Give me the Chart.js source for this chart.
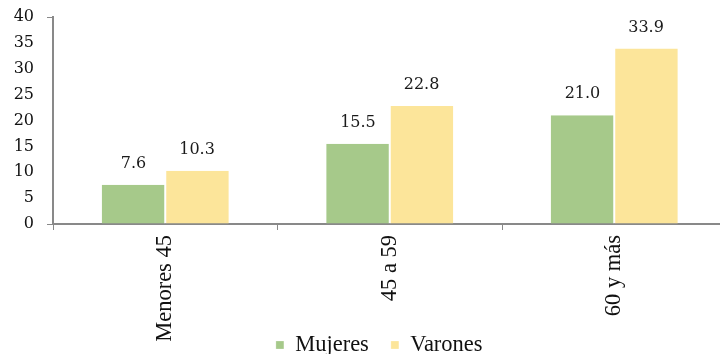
<!DOCTYPE html>
<html>
<head>
<meta charset="utf-8">
<script src="https://cdn.jsdelivr.net/npm/chart.js@4.4.1/dist/chart.umd.min.js"></script>
<style>
  html, body { margin: 0; padding: 0; background: #fff; overflow: hidden; }
  #wrap { width: 752px; height: 430px; position: relative; }
</style>
</head>
<body>
<div id="wrap"><canvas id="chart"></canvas></div>
<script>
const categories = ['Menores 45', '45 a 59', '60 y más'];
const mujeres = [7.6, 15.5, 21.0];
const varones = [10.3, 22.8, 33.9];
const yTicks = [0, 5, 10, 15, 20, 25, 30, 35, 40];

const axisGray = '#898989';
const legendPad = 22;
const legendFont = 22.5;
const plotBottom = 224;

// value labels above each bar
const barValues = {
  id: 'barValues',
  afterDatasetsDraw(chart) {
    const ctx = chart.ctx;
    ctx.save();
    ctx.font = '16px "DejaVu Serif"';
    ctx.fillStyle = '#1a1a1a';
    ctx.textAlign = 'center';
    ctx.textBaseline = 'bottom';
    chart.data.datasets.forEach((ds, i) => {
      chart.getDatasetMeta(i).data.forEach((bar, j) => {
        ctx.fillText(ds.data[j].toFixed(1), bar.x, bar.y - 13);
      });
    });
    ctx.restore();
  }
};

// pull the legend up so it sits level with the ends of the
// rotated category labels, nudged a little right of centre
const legendUp = {
  id: 'legendUp',
  afterLayout(chart) {
    const lg = chart.legend;
    const h = lg.height;
    lg.top = 345 - legendPad - legendFont / 2;
    lg.bottom = lg.top + h;
    lg.left += 16;
    lg.right += 16;
  }
};

new Chart(document.getElementById('chart'), {
  type: 'bar',
  data: {
    labels: categories,
    datasets: [
      { label: 'Mujeres', data: mujeres, backgroundColor: '#a6c98a', borderColor: '#ffffff', borderWidth: { left: 0, right: 1, top: 0, bottom: 0 } },
      { label: 'Varones', data: varones, backgroundColor: '#fce59a', borderColor: '#ffffff', borderWidth: { left: 1, right: 0, top: 0, bottom: 0 } }
    ]
  },
  options: {
    responsive: true,
    maintainAspectRatio: false,
    animation: false,
    layout: { padding: { top: 17, right: 25.5, left: 0, bottom: 0 } },
    datasets: { bar: { categoryPercentage: 0.566, barPercentage: 1 } },
    scales: {
      x: {
        grid: { offset: true, drawOnChartArea: false, tickLength: 6, color: axisGray, lineWidth: 1 },
        border: { color: axisGray, width: 2 },
        ticks: {
          minRotation: 90, maxRotation: 90, padding: 5,
          color: '#111',
          font: { family: '"Liberation Serif"', size: 22.5 }
        },
        afterFit(scale) {
          const chart = scale.chart;
          scale.height = chart.height - plotBottom - chart.legend.height;
        }
      },
      y: {
        min: 0, max: 40,
        afterBuildTicks(scale) { scale.ticks = yTicks.map(v => ({ value: v })); },
        grid: {
          drawOnChartArea: false, tickLength: 6,
          color: c => (c.tick && (c.tick.value === 0 || c.tick.value === 40)) ? axisGray : 'rgba(0,0,0,0)'
        },
        border: { color: axisGray, width: 2 },
        ticks: {
          padding: 13, color: '#111',
          font: { family: '"DejaVu Serif"', size: 16 }
        },
        afterFit(scale) {
          scale.width = 53;
          scale.paddingTop = 0;
        }
      }
    },
    plugins: {
      legend: {
        position: 'bottom',
        labels: {
          boxWidth: 8, boxHeight: 8, padding: legendPad,
          color: '#111',
          font: { family: '"Liberation Serif"', size: legendFont }
        }
      },
      tooltip: { enabled: false }
    }
  },
  plugins: [barValues, legendUp]
});
</script>
</body>
</html>
